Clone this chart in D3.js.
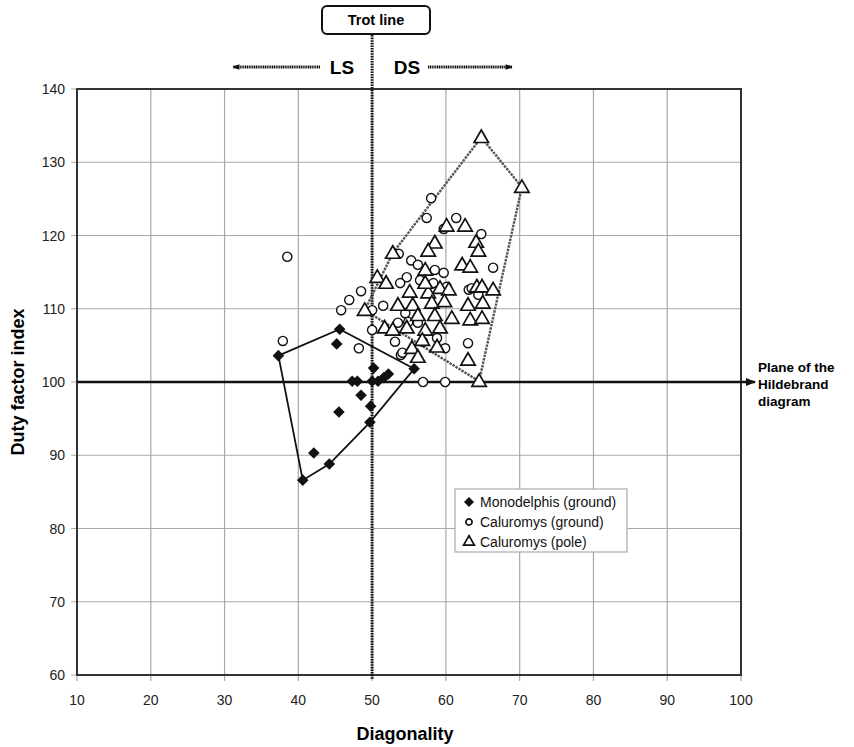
<!DOCTYPE html>
<html><head><meta charset="utf-8">
<script src="https://cdn.jsdelivr.net/npm/d3@7"></script>
<style>body{margin:0;background:#fff}svg{display:block;font-family:Arial,"Liberation Sans",Helvetica,sans-serif}</style>
</head><body><svg id="c" width="854" height="747"></svg>
<script>
const xTicks = [10,20,30,40,50,60,70,80,90,100];
const yTicks = [60,70,80,90,100,110,120,130,140];
const seriesNames = ["Monodelphis (ground)","Caluromys (ground)","Caluromys (pole)"];
const monodelphis = [[37.3,103.6],[45.6,107.2],[45.2,105.2],[47.3,100.1],[48.0,100.1],[48.5,98.2],[45.5,95.9],[42.1,90.3],[44.2,88.8],[40.6,86.6],[49.7,94.5],[49.8,96.7],[50.2,101.9],[50.0,100.1],[50.8,100.1],[51.6,100.6],[52.2,101.1],[55.7,101.8]];
const caluromysGround = [[38.5,117.1],[37.9,105.6],[45.8,109.8],[46.9,111.2],[48.5,112.4],[50.0,107.1],[48.2,104.6],[50.0,109.8],[58.0,125.1],[57.4,122.4],[61.4,122.4],[59.7,120.9],[64.8,120.2],[53.6,117.5],[55.3,116.6],[56.2,116.0],[58.5,115.3],[59.7,114.9],[66.4,115.6],[54.7,114.3],[51.5,110.4],[53.9,103.7],[56.9,100.0],[59.9,100.0],[63.0,105.3],[63.1,112.6],[53.8,113.5],[56.5,113.9],[58.3,113.5],[54.5,109.4],[53.5,108.1],[54.9,108.2],[56.2,108.1],[53.1,105.5],[54.1,104.0],[56.9,105.5],[60.1,113.0],[63.5,112.8],[64.4,111.9],[59.9,104.6],[58.8,106.0]];
const caluromysPole = [[64.8,133.4],[70.3,126.6],[64.5,100.1],[49.0,109.8],[52.8,117.6],[60.1,121.3],[62.6,121.3],[64.1,119.1],[64.4,117.9],[58.5,119.0],[57.6,117.9],[62.2,116.0],[63.3,115.7],[57.2,115.3],[50.7,114.3],[51.9,113.5],[55.1,112.3],[57.6,112.2],[59.2,112.8],[60.4,112.6],[64.2,113.0],[64.9,113.0],[66.4,112.6],[53.5,110.5],[55.5,110.5],[58.1,110.8],[59.8,111.0],[63.0,110.5],[65.0,110.8],[56.2,109.1],[58.5,109.1],[63.3,108.5],[64.9,108.7],[60.8,108.7],[51.7,107.4],[52.8,107.1],[54.7,107.4],[57.2,107.1],[59.2,107.4],[56.8,105.7],[58.8,104.8],[55.4,104.6],[56.2,103.4],[63.0,103.0],[57.2,113.5]];
const hullMono = [[37.3,103.6],[45.6,107.2],[55.7,101.8],[49.7,94.5],[44.2,88.8],[40.6,86.6]];
const hullPole = [[52.8,117.6],[64.8,133.4],[70.3,126.6],[64.5,100.1],[49.0,109.8]];

const svg = d3.select("#c");
const x = d3.scaleLinear().domain([10,100]).range([77,741]);
const y = d3.scaleLinear().domain([60,140]).range([675,89]);

// grid
const g = svg.append("g");
g.selectAll("line.vx").data(xTicks).join("line")
  .attr("x1",d=>x(d)).attr("x2",d=>x(d)).attr("y1",y(60)).attr("y2",y(140))
  .attr("stroke","#a8a8a8").attr("stroke-width",1.2);
g.selectAll("line.hy").data(yTicks).join("line")
  .attr("y1",d=>y(d)).attr("y2",d=>y(d)).attr("x1",x(10)-6).attr("x2",x(100))
  .attr("stroke","#a8a8a8").attr("stroke-width",1.2);
g.selectAll("line.tx").data(xTicks).join("line")
  .attr("x1",d=>x(d)).attr("x2",d=>x(d)).attr("y1",y(60)).attr("y2",y(60)+6)
  .attr("stroke","#a8a8a8").attr("stroke-width",1.2);
svg.append("rect").attr("x",x(10)).attr("y",y(140)).attr("width",x(100)-x(10)).attr("height",y(60)-y(140))
  .attr("fill","none").attr("stroke","#333").attr("stroke-width",2);

// tick labels
svg.selectAll("text.xt").data(xTicks).join("text")
  .attr("x",d=>x(d)).attr("y",y(60)+30).attr("text-anchor","middle")
  .attr("font-size",14).attr("fill","#222").text(d=>d);
svg.selectAll("text.yt").data(yTicks).join("text")
  .attr("x",x(10)-12).attr("y",d=>y(d)+5).attr("text-anchor","end")
  .attr("font-size",14).attr("fill","#222").text(d=>d);

svg.append("text").attr("x",405).attr("y",740).attr("text-anchor","middle")
  .attr("font-size",18).attr("font-weight","bold").text("Diagonality");
svg.append("text").attr("transform",`translate(24,${y(100)}) rotate(-90)`).attr("text-anchor","middle")
  .attr("font-size",18).attr("font-weight","bold").text("Duty factor index");

// arrow markers
const defs = svg.append("defs");
defs.append("marker").attr("id","ah").attr("viewBox","0 0 10 10").attr("refX",9).attr("refY",5)
  .attr("markerWidth",9).attr("markerHeight",7).attr("markerUnits","userSpaceOnUse").attr("orient","auto")
  .append("path").attr("d","M0,1L10,5L0,9Z").attr("fill","#111");
defs.append("marker").attr("id","ah2").attr("viewBox","0 0 10 10").attr("refX",9).attr("refY",5)
  .attr("markerWidth",14).attr("markerHeight",10).attr("markerUnits","userSpaceOnUse").attr("orient","auto")
  .append("path").attr("d","M0,1L10,5L0,9Z").attr("fill","#111");

// horizontal line at 100
svg.append("line").attr("x1",x(10)).attr("x2",755).attr("y1",y(100)).attr("y2",y(100))
  .attr("stroke","#111").attr("stroke-width",2.6).attr("marker-end","url(#ah2)");
// trot line
svg.append("line").attr("x1",x(50)).attr("x2",x(50)).attr("y1",35).attr("y2",y(60)+4)
  .attr("stroke","#111").attr("stroke-width",3).attr("stroke-dasharray","1.6,1");

// trot box
svg.append("rect").attr("x",322).attr("y",6).attr("width",108).attr("height",28).attr("rx",5)
  .attr("fill","#fff").attr("stroke","#111").attr("stroke-width",2);
svg.append("text").attr("x",376).attr("y",25).attr("text-anchor","middle")
  .attr("font-size",14.5).attr("font-weight","bold").text("Trot line");
svg.append("text").attr("x",342).attr("y",74).attr("text-anchor","middle")
  .attr("font-size",19).attr("font-weight","bold").text("LS");
svg.append("text").attr("x",407).attr("y",74).attr("text-anchor","middle")
  .attr("font-size",19).attr("font-weight","bold").text("DS");
svg.append("line").attr("x1",320).attr("x2",233).attr("y1",67).attr("y2",67)
  .attr("stroke","#111").attr("stroke-width",3).attr("stroke-dasharray","1.2,0.6").attr("marker-end","url(#ah)");
svg.append("line").attr("x1",428).attr("x2",512).attr("y1",67).attr("y2",67)
  .attr("stroke","#111").attr("stroke-width",3).attr("stroke-dasharray","1.2,0.6").attr("marker-end","url(#ah)");

// plane text
const pt = svg.append("text").attr("x",758).attr("font-size",13.5).attr("font-weight","bold");
["Plane of the","Hildebrand","diagram"].forEach((t,i)=>pt.append("tspan").attr("x",758).attr("y",372+i*17).text(t));

// hulls
const line = d3.line().x(d=>x(d[0])).y(d=>y(d[1])).curve(d3.curveLinearClosed);
svg.append("path").attr("d",line(hullPole)).attr("fill","none").attr("stroke","#555")
  .attr("stroke-width",2.4).attr("stroke-dasharray","2.5,1");
svg.append("path").attr("d",line(hullMono)).attr("fill","none").attr("stroke","#111").attr("stroke-width",1.8);

// markers
const circ = d3.symbol().type(d3.symbolCircle).size(66);
const tri = d3.symbol().type(d3.symbolTriangle).size(90);
const diaPath = s => `M0,${-s}L${s},0L0,${s}L${-s},0Z`;
svg.append("g").selectAll("path").data(caluromysGround).join("path")
  .attr("transform",d=>`translate(${x(d[0])},${y(d[1])})`).attr("d",circ)
  .attr("fill","#fff").attr("stroke","#111").attr("stroke-width",1.4);
svg.append("g").selectAll("path").data(caluromysPole).join("path")
  .attr("transform",d=>`translate(${x(d[0])},${y(d[1])+1})`).attr("d",tri)
  .attr("fill","#fff").attr("stroke","#111").attr("stroke-width",1.7);
svg.append("g").selectAll("path").data(monodelphis).join("path")
  .attr("transform",d=>`translate(${x(d[0])},${y(d[1])})`).attr("d",diaPath(5.8))
  .attr("fill","#111");

// legend
const lg = svg.append("g");
lg.append("rect").attr("x",455).attr("y",489).attr("width",172).attr("height",63)
  .attr("fill","#fff").attr("stroke","#aaa").attr("stroke-width",1.2);
const symScale = [diaPath(5), d3.symbol().type(d3.symbolCircle).size(30)(), d3.symbol().type(d3.symbolTriangle).size(50)()];
seriesNames.forEach((n,i)=>{
  const yy = 502 + i*20;
  const p = lg.append("path").attr("transform",`translate(469,${yy})`).attr("d",symScale[i]);
  if(i===0) p.attr("fill","#111"); else p.attr("fill","#fff").attr("stroke","#111").attr("stroke-width",1.7);
  lg.append("text").attr("x",480).attr("y",yy+5).attr("font-size",14).attr("fill","#111").text(n);
});
</script></body></html>
